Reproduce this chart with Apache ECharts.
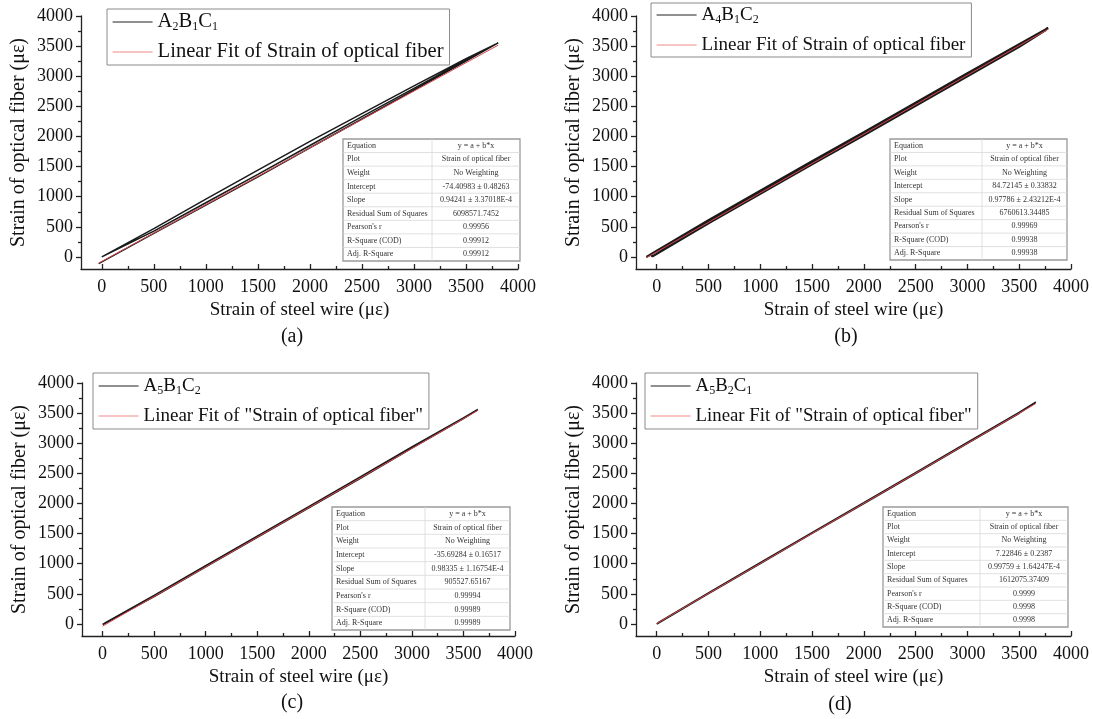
<!DOCTYPE html>
<html><head><meta charset="utf-8">
<script src="https://cdn.jsdelivr.net/npm/echarts@6/dist/echarts.min.js"></script>
<style>html,body{margin:0;padding:0;background:#fff}#c{width:1093px;height:719px}</style>
</head><body><div id="c"></div>
<script>
// ---- data ----
const majorTicks = [0, 500, 1000, 1500, 2000, 2500, 3000, 3500, 4000];
const minorTicks = [250, 750, 1250, 1750, 2250, 2750, 3250, 3750];
const panelLabels = ['(a)', '(b)', '(c)', '(d)'];
const xAxisTitle = 'Strain of steel wire (\u03bc\u03b5)';
const yAxisTitle = 'Strain of optical fiber (\u03bc\u03b5)';
const sampleNames = ['A2B1C1', 'A4B1C2', 'A5B1C2', 'A5B2C1'];
const fitNames = ['Linear Fit of Strain of optical fiber', 'Linear Fit of Strain of optical fiber',
  'Linear Fit of "Strain of optical fiber"', 'Linear Fit of "Strain of optical fiber"'];

const dataA = [[-30,-110],[500,390],[1000,860],[1500,1330],[2000,1810],[2500,2290],[3000,2770],[3500,3250],[3810,3555],
  [3500,3290],[3000,2840],[2500,2380],[2000,1920],[1500,1440],[1000,960],[500,470],[0,0],
  [0,-20],[500,430],[1000,900],[1500,1370],[2000,1850],[2500,2330],[3000,2800],[3500,3270],[3780,3530]];
const dataB = [[-100,0],[500,580],[1000,1070],[1500,1560],[2000,2040],[2500,2530],[3000,3020],[3500,3510],[3780,3800],
  [3500,3530],[3000,3050],[2500,2560],[2000,2070],[1500,1590],[1000,1100],[500,610],[-60,40],
  [-40,10],[500,560],[1000,1050],[1500,1540],[2000,2020],[2500,2510],[3000,3000],[3500,3490],[3760,3770]];
const dataC = [[0,-10],[500,455],[1000,950],[1500,1440],[2000,1930],[2500,2420],[3000,2920],[3500,3410],[3640,3560],
  [3500,3420],[3000,2935],[2500,2440],[2000,1945],[1500,1455],[1000,965],[500,470],[20,10]];
const dataD = [[0,0],[500,505],[1000,1005],[1500,1505],[2000,2000],[2500,2500],[3000,3000],[3500,3500],[3660,3680],
  [3500,3510],[3000,3010],[2500,2510],[2000,2012],[1500,1515],[1000,1015],[500,515],[10,15]];
const fitA = [[-30,-103],[3810,3516]];
const fitB = [[-100,-13],[3780,3781]];
const fitC = [[0,-36],[3640,3544]];
const fitD = [[0,7],[3660,3658]];

const tableRowLabels = ['Equation','Plot','Weight','Intercept','Slope','Residual Sum of Squares',"Pearson's r",'R-Square (COD)','Adj. R-Square'];
const tableA = ['y = a + b*x','Strain of optical fiber','No Weighting','-74.40983 \u00b1 0.48263','0.94241 \u00b1 3.37018E-4','6098571.7452','0.99956','0.99912','0.99912'];
const tableB = ['y = a + b*x','Strain of optical fiber','No Weighting','84.72145 \u00b1 0.33832','0.97786 \u00b1 2.43212E-4','6760613.34485','0.99969','0.99938','0.99938'];
const tableC = ['y = a + b*x','Strain of optical fiber','No Weighting','-35.69284 \u00b1 0.16517','0.98335 \u00b1 1.16754E-4','905527.65167','0.99994','0.99989','0.99989'];
const tableD = ['y = a + b*x','Strain of optical fiber','No Weighting','7.22846 \u00b1 0.2387','0.99759 \u00b1 1.64247E-4','1612075.37409','0.9999','0.9998','0.9998'];

// ---- layout ----
const FONT = 'Liberation Serif';
const panels = [
  {grid:{left:81,right:575,top:16,bottom:450}, data:dataA, fit:fitA, table:tableA, tb:{x:343,y:139,w:177,h:122,d:89}, lg:{left:107,top:9}, lgFont:20.6, lgPad:2, lab:{x:292,y:337}, lw:1.5},
  {grid:{left:636,right:22,top:16,bottom:450}, data:dataB, fit:fitB, table:tableB, tb:{x:890,y:139,w:177,h:121,d:92}, lg:{left:651,top:3}, lgFont:19, lgPad:1, lab:{x:846,y:337}, lw:2.2},
  {grid:{left:82,right:578,top:383,bottom:83}, data:dataC, fit:fitC, table:tableC, tb:{x:332,y:507,w:178,h:123,d:93}, lg:{left:93,top:373}, lgFont:19, lgPad:2, lab:{x:292,y:703}, lw:1.8},
  {grid:{left:636,right:22,top:383,bottom:83}, data:dataD, fit:fitD, table:tableD, tb:{x:883,y:507,w:185,h:120,d:97}, lg:{left:645,top:373}, lgFont:18.8, lgPad:2, lab:{x:840,y:705}, lw:1.8}
];

function subRich(name){
  let s = '';
  for (const ch of name) s += /[0-9]/.test(ch) ? '{s|' + ch + '}' : '{n|' + ch + '}';
  return s;
}
const plain = v => String(v);

const grids = [], xAxes = [], yAxes = [], series = [], legends = [], graphics = [];
const axisLineStyle = {color:'#222', width:1.3};
panels.forEach((p, i) => {
  grids.push(p.grid);
  const common = {min:-200, max:4000, gridIndex:i, splitLine:{show:false}};
  xAxes.push(Object.assign({}, common, {type:'value', position:'bottom', name:xAxisTitle, nameLocation:'middle', nameGap:32,
    nameTextStyle:{fontFamily:FONT, fontSize:19, color:'#111'},
    axisLine:{show:true, onZero:false, lineStyle:axisLineStyle},
    axisTick:{show:true, inside:true, length:5, customValues:majorTicks, lineStyle:axisLineStyle},
    axisLabel:{fontFamily:FONT, fontSize:18, color:'#111', margin:9, customValues:majorTicks, formatter:plain}}));
  xAxes.push(Object.assign({}, common, {type:'value', position:'bottom',
    axisLine:{show:false, onZero:false}, axisLabel:{show:false},
    axisTick:{show:true, inside:true, length:3, customValues:minorTicks, lineStyle:axisLineStyle}}));
  yAxes.push(Object.assign({}, common, {type:'value', position:'left', name:yAxisTitle, nameLocation:'middle', nameGap:52, nameRotate:90,
    nameTextStyle:{fontFamily:FONT, fontSize:20, color:'#111'},
    axisLine:{show:true, onZero:false, lineStyle:axisLineStyle},
    axisTick:{show:true, inside:false, length:5, customValues:majorTicks, lineStyle:axisLineStyle},
    axisLabel:{fontFamily:FONT, fontSize:18, color:'#111', margin:8, customValues:majorTicks, formatter:plain}}));
  yAxes.push(Object.assign({}, common, {type:'value', position:'left',
    axisLine:{show:false, onZero:false}, axisLabel:{show:false},
    axisTick:{show:true, inside:false, length:3, customValues:minorTicks, lineStyle:axisLineStyle}}));

  const fitId = 'fit' + i;
  series.push({name:sampleNames[i], type:'line', xAxisIndex:2*i, yAxisIndex:2*i, data:p.data,
    symbol:'none', showSymbol:false, color:'#1a1a1a', lineStyle:{color:'#1a1a1a', width:p.lw}, z:2, animation:false});
  series.push({name:fitId, type:'line', xAxisIndex:2*i, yAxisIndex:2*i, data:p.fit,
    symbol:'none', showSymbol:false, color:'#e8595c', lineStyle:{color:'#d9474b', width:1}, z:3, animation:false});

  const f = p.lgFont;
  legends.push({left:p.lg.left, top:p.lg.top, orient:'vertical',
    data:[{name:sampleNames[i], itemStyle:{opacity:0}, lineStyle:{color:'#222', width:1.2}},
          {name:fitId, itemStyle:{opacity:0}, lineStyle:{color:'#f08a8a', width:1.2}}],
    itemWidth:40, itemHeight:12, itemGap:8, padding:[p.lgPad,6,p.lgPad,5], borderColor:'#8a8a8a', borderWidth:1,
    selectedMode:false,
    formatter:function(name){ return name === fitId ? '{n|' + fitNames[i] + '}' : subRich(name); },
    textStyle:{fontFamily:FONT, fontSize:f, color:'#111', lineHeight:22,
      rich:{n:{fontFamily:FONT, fontSize:f, color:'#111', lineHeight:22},
            s:{fontFamily:FONT, fontSize:12, color:'#111', verticalAlign:'bottom', lineHeight:22, padding:[9,0,0,0]}}}});

  graphics.push({type:'text', x:p.lab.x, y:p.lab.y, style:{text:panelLabels[i], font:'20px ' + FONT, fill:'#111', align:'center', verticalAlign:'middle'}});

  const t = p.tb, rows = tableRowLabels.length, rh = t.h / rows;
  const children = [];
  children.push({type:'rect', shape:{x:0, y:0, width:t.w, height:t.h}, style:{fill:'#fff', stroke:'#9a9a9a', lineWidth:1.3}});
  for (let r = 1; r < rows; r++) children.push({type:'line', shape:{x1:0, y1:r*rh, x2:t.w, y2:r*rh}, style:{stroke:'#d8d8d8', lineWidth:0.8}});
  children.push({type:'line', shape:{x1:t.d, y1:0, x2:t.d, y2:t.h}, style:{stroke:'#d8d8d8', lineWidth:0.8}});
  for (let r = 0; r < rows; r++) {
    children.push({type:'text', x:4, y:r*rh + rh/2, style:{text:tableRowLabels[r], font:'8px ' + FONT, fill:'#333', verticalAlign:'middle', align:'left'}});
    children.push({type:'text', x:(t.d + t.w)/2, y:r*rh + rh/2, style:{text:p.table[r], font:'8px ' + FONT, fill:'#333', verticalAlign:'middle', align:'center'}});
  }
  graphics.push({type:'group', x:t.x, y:t.y, z:50, children});
});

const chart = echarts.init(document.getElementById('c'), null, {renderer:'canvas'});
chart.setOption({
  animation:false,
  backgroundColor:'#fff',
  textStyle:{fontFamily:FONT},
  grid:grids, xAxis:xAxes, yAxis:yAxes, series:series, legend:legends, graphic:graphics
});
</script>
</body></html>
